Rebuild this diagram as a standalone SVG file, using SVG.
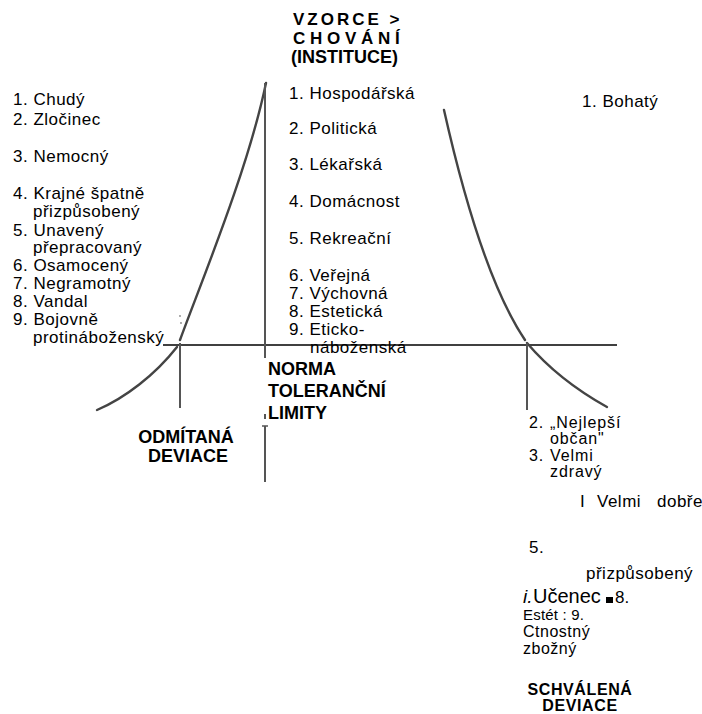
<svg xmlns="http://www.w3.org/2000/svg" width="702" height="714" viewBox="0 0 702 714">
<style>
text{font-family:"Liberation Sans",Arial,sans-serif;fill:#000}
.t{font-size:17px;letter-spacing:0.5px}
.r{font-size:16px;letter-spacing:0.9px}
.b{font-size:18px;font-weight:bold}
.h{font-size:17px;font-weight:bold}
.s{font-size:16px;font-weight:bold;letter-spacing:0.6px}
.c{fill:none;stroke:#444;stroke-width:2.4;stroke-linecap:round}
.v{fill:none;stroke:#555;stroke-width:2}
.m{text-anchor:middle}
</style>
<rect width="702" height="714" fill="#fff"/>
<g id="connectors">
<line x1="163" y1="345" x2="617" y2="345" stroke="#000" stroke-width="1.3"/>
<path class="c" d="M97,410 C125,398 155,375 177,347"/>
<path class="c" d="M180,340 C200,285 248,170 266,83"/>
<line class="v" x1="180" y1="343" x2="180" y2="408"/>
<line class="v" x1="265" y1="83" x2="265" y2="358"/>
<line class="v" x1="265" y1="414" x2="265" y2="419"/>
<line class="v" x1="265" y1="426" x2="265" y2="482"/>
<line x1="262" y1="426" x2="268" y2="426" stroke="#555" stroke-width="1.5"/>
<path class="c" d="M444,110 C462,190 488,285 525,340"/>
<path class="c" d="M527,343 C550,370 580,392 607,407"/>
<line class="v" x1="527" y1="343" x2="527" y2="410"/>
<circle cx="180" cy="316" r="0.9" fill="#888"/>
<circle cx="181" cy="323" r="0.9" fill="#888"/>
</g>
<g id="header">
<text class="h" x="293" y="25" letter-spacing="3">VZORCE &gt;</text>
<text class="h" x="293" y="44">C H O V Á N Í</text>
<text class="b" x="291" y="63">(INSTITUCE)</text>
</g>
<g id="left-list">
<text class="t" x="13" y="105">1. Chudý</text>
<text class="t" x="13" y="125">2. Zločinec</text>
<text class="t" x="13" y="162">3. Nemocný</text>
<text class="t" x="13" y="199">4. Krajné špatně</text>
<text class="t" x="33" y="217">přizpůsobený</text>
<text class="t" x="13" y="236">5. Unavený</text>
<text class="t" x="33" y="253">přepracovaný</text>
<text class="t" x="13" y="271">6. Osamocený</text>
<text class="t" x="13" y="289">7. Negramotný</text>
<text class="t" x="13" y="307">8. Vandal</text>
<text class="t" x="13" y="325">9. Bojovně</text>
<text class="t" x="33" y="343">protináboženský</text>
</g>
<g id="middle-list">
<text class="t" x="289" y="99">1. Hospodářská</text>
<text class="t" x="289" y="134">2. Politická</text>
<text class="t" x="289" y="170">3. Lékařská</text>
<text class="t" x="289" y="207">4. Domácnost</text>
<text class="t" x="289" y="244">5. Rekreační</text>
<text class="t" x="289" y="281">6. Veřejná</text>
<text class="t" x="289" y="299">7. Výchovná</text>
<text class="t" x="289" y="317">8. Estetická</text>
<text class="t" x="289" y="335">9. Eticko-</text>
<text class="t" x="310" y="353">náboženská</text>
</g>
<g id="norma">
<text class="b" x="268" y="375">NORMA</text>
<text class="b" x="268" y="397">TOLERANČNÍ</text>
<text class="b" x="268" y="419">LIMITY</text>
</g>
<g id="odmitana">
<text class="b m" x="186" y="443">ODMÍTANÁ</text>
<text class="b m" x="188" y="462">DEVIACE</text>
</g>
<g id="right-list">
<text class="t" x="582" y="107">1. Bohatý</text>
<text class="r" x="529" y="428">2.</text>
<text class="r" x="550" y="428">„Nejlepší</text>
<text class="r" x="550" y="444">občan"</text>
<text class="r" x="529" y="461">3.</text>
<text class="r" x="550" y="461">Velmi</text>
<text class="r" x="550" y="477">zdravý</text>
<text class="t" x="580" y="507">I</text>
<text class="t" x="597" y="507">Velmi</text>
<text class="t" x="657" y="507">dobře</text>
<text class="t" x="529" y="553">5.</text>
<text class="t" x="586" y="579">přizpůsobený</text>
<text x="523" y="603" font-size="19" font-style="italic">i.</text>
<text x="533" y="603" font-size="20">Učenec</text>
<rect x="606" y="597" width="7" height="6" fill="#000"/>
<text x="615" y="603" font-size="17">8.</text>
<text x="523" y="620" font-size="15" letter-spacing="0.2">Estét : 9.</text>
<text x="523" y="637" font-size="16" letter-spacing="0.5">Ctnostný</text>
<text x="523" y="654" font-size="16" letter-spacing="0.5">zbožný</text>
</g>
<g id="schvalena">
<text class="s m" x="580" y="695">SCHVÁLENÁ</text>
<text class="s m" x="580" y="711">DEVIACE</text>
</g>
</svg>
